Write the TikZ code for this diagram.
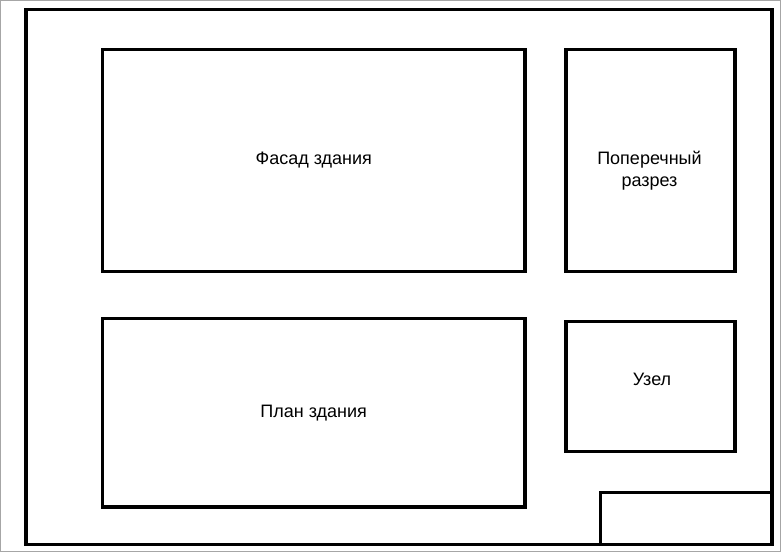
\documentclass[tikz,border=0pt]{standalone}
\usepackage{fontspec}
\setmainfont{Liberation Sans}
\usetikzlibrary{positioning}

\begin{document}
\begin{tikzpicture}[
		x=1pt, y=1pt,
		sheet/.style = {draw, line width=3.5pt, rectangle, outer sep=0pt, inner sep=0pt, font=\fontsize{18}{22}\selectfont},
		caption/.style = {inner sep=0pt, align=center, font=\fontsize{18}{22}\selectfont}
		]
		\useasboundingbox (0,0) rectangle (782,552);
		% sheet border
		\draw[line width=1pt, gray!70] (0.5,1) rectangle (780,551.5);
		\draw[line width=3.5pt] (26,7.5) rectangle (772,542.5);
		\coordinate (br) at (772,7.5);
		
		% drawings on the sheet
		\node[sheet, minimum width=422.5, minimum height=222] at (313.75,391.5) (facade) {Фасад здания};
		\node[sheet, minimum width=169, minimum height=222, right=41 of facade.north east, anchor=north west] (cross) {};
		\node[sheet, minimum width=422.5, minimum height=188.5, below=47 of facade.south west, anchor=north west] (plan) {План здания};
		\node[sheet, minimum width=169, minimum height=130, below=50 of cross.south west, anchor=north west] (joint) {};
		
		% denote
		\node[caption] at ([xshift=-1pt,yshift=-10pt]cross.center) (crosstext) {Поперечный\\разрез};
		\node[caption] at ([xshift=1.5pt,yshift=7pt]joint.center) (jointtext) {Узел};
		
		% title block
		\coordinate (tb) at (600.5,59.5);
		\draw[line width=3.5pt] (tb |- br) |- (tb -| br);
	\end{tikzpicture}
\end{document}
